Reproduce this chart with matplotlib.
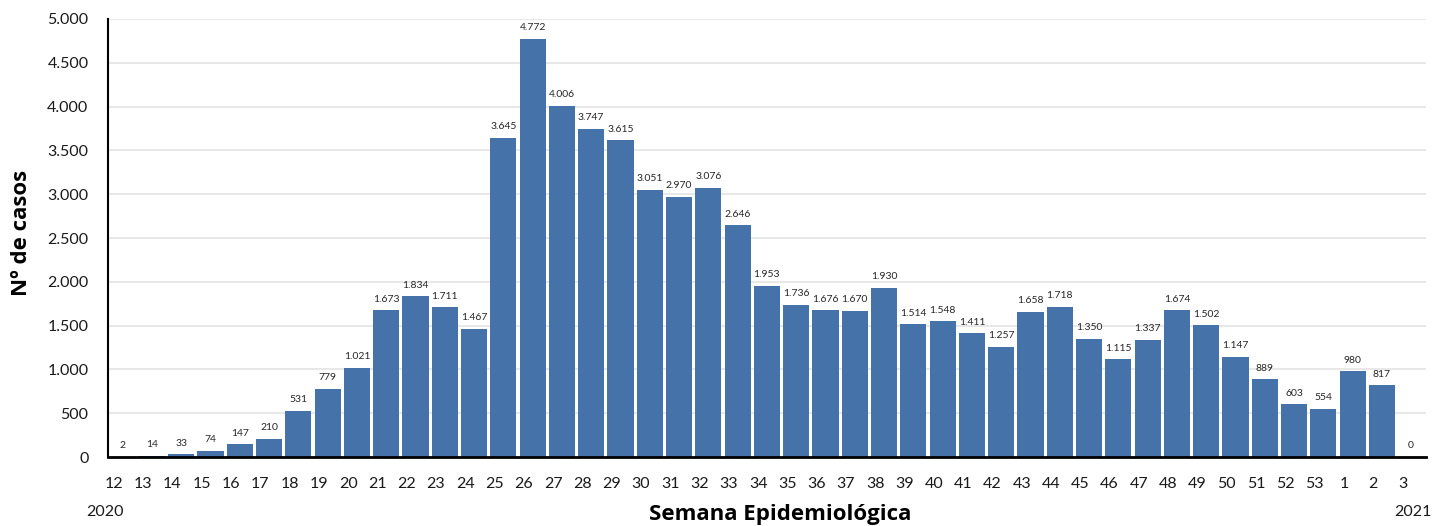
import matplotlib.pyplot as plt
from matplotlib.ticker import FuncFormatter

plt.rcParams['font.family'] = ['Lato', 'DejaVu Sans']

semanas = ["12", "13", "14", "15", "16", "17", "18", "19", "20", "21", "22", "23",
           "24", "25", "26", "27", "28", "29", "30", "31", "32", "33", "34", "35",
           "36", "37", "38", "39", "40", "41", "42", "43", "44", "45", "46", "47",
           "48", "49", "50", "51", "52", "53", "1", "2", "3"]
casos = [2, 14, 33, 74, 147, 210, 531, 779, 1021, 1673, 1834, 1711,
         1467, 3645, 4772, 4006, 3747, 3615, 3051, 2970, 3076, 2646, 1953, 1736,
         1676, 1670, 1930, 1514, 1548, 1411, 1257, 1658, 1718, 1350, 1115, 1337,
         1674, 1502, 1147, 889, 603, 554, 980, 817, 0]


def miles(v):
    return f"{int(v):,}".replace(",", ".")


fig = plt.figure(figsize=(14.34, 5.26), dpi=100)
ax = fig.add_axes([0.0753, 0.131, 0.919, 0.833])

x = list(range(len(casos)))
bars = ax.bar(x, casos, width=0.89, color="#4472A9", zorder=3)

for xi, v in zip(x, casos):
    ax.annotate(miles(v), (xi, v), xytext=(0, 8), textcoords="offset points",
                ha="center", va="center", fontsize=7.5, color="#262626")

ax.set_xlim(-0.5, len(casos) - 0.5)
ax.set_ylim(0, 5000)
ax.set_yticks(range(0, 5001, 500))
ax.yaxis.set_major_formatter(FuncFormatter(lambda v, p: miles(v)))
ax.grid(axis="y", color="#e8e8e8", linewidth=1.5, zorder=0)

# las etiquetas de semana van algo desplazadas respecto a las barras
ax.set_xticks([xi - 0.3 for xi in x])
ax.set_xticklabels(semanas)
ax.tick_params(axis="x", length=0, pad=14, labelsize=11.5, labelcolor="#1a1a1a")
ax.tick_params(axis="y", length=0, pad=14, labelsize=11.5, labelcolor="#1a1a1a")

for s in ["top", "right"]:
    ax.spines[s].set_visible(False)
ax.spines["left"].set_linewidth(1.5)
ax.spines["bottom"].set_linewidth(2)
ax.spines["left"].set_zorder(4)
ax.spines["bottom"].set_zorder(4)

fig.text(0.0153, 0.558, "Nº de casos", rotation=90, ha="center", va="center",
         fontsize=16, fontweight="bold", family=["Open Sans", "DejaVu Sans"])
fig.text(0.544, 0.021, "Semana Epidemiológica", ha="center", va="center",
         fontsize=16, fontweight="bold", family=["Open Sans", "DejaVu Sans"])
fig.text(0.073, 0.027, "2020", ha="center", va="center", fontsize=11.5, color="#1a1a1a")
fig.text(0.985, 0.027, "2021", ha="center", va="center", fontsize=11.5, color="#1a1a1a")

fig.savefig("out.png", dpi=100)
